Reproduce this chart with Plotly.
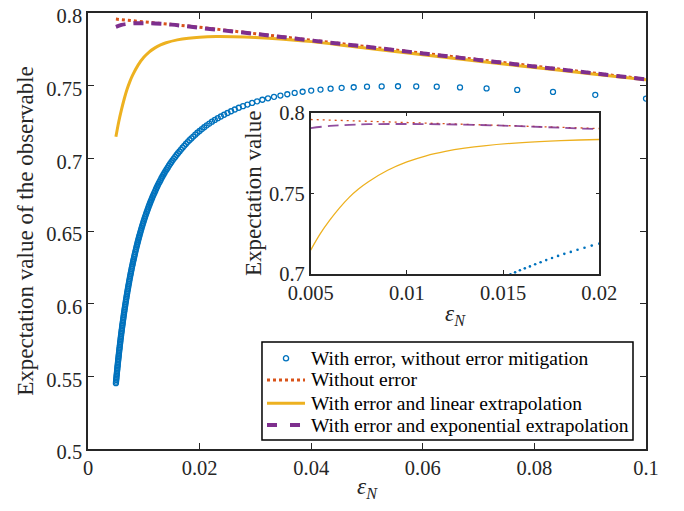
import plotly.graph_objects as go

# ---------------- data ----------------
# "With error, without error mitigation": sampled at eps_N = 1/N, N = 10..200
N_samples = list(range(10, 201))
blue_y = [
    0.7411, 0.7437, 0.7457, 0.7471, 0.7481, 0.7488, 0.7493, 0.7495, 0.7496, 0.7495,
    0.7493, 0.7489, 0.7485, 0.7479, 0.7473, 0.7466, 0.7458, 0.7450, 0.7441, 0.7432,
    0.7423, 0.7413, 0.7403, 0.7392, 0.7381, 0.7370, 0.7359, 0.7348, 0.7336, 0.7324,
    0.7312, 0.7300, 0.7288, 0.7276, 0.7264, 0.7252, 0.7239, 0.7227, 0.7214, 0.7201,
    0.7188, 0.7176, 0.7163, 0.7150, 0.7137, 0.7125, 0.7112, 0.7099, 0.7086, 0.7073,
    0.7060, 0.7047, 0.7035, 0.7023, 0.7010, 0.6998, 0.6986, 0.6973, 0.6961, 0.6949,
    0.6936, 0.6924, 0.6912, 0.6899, 0.6887, 0.6875, 0.6863, 0.6850, 0.6838, 0.6826,
    0.6813, 0.6801, 0.6789, 0.6776, 0.6764, 0.6752, 0.6740, 0.6727, 0.6715, 0.6703,
    0.6691, 0.6679, 0.6667, 0.6654, 0.6642, 0.6630, 0.6618, 0.6606, 0.6594, 0.6582,
    0.6570, 0.6558, 0.6546, 0.6534, 0.6522, 0.6510, 0.6498, 0.6486, 0.6474, 0.6462,
    0.6450, 0.6438, 0.6426, 0.6414, 0.6402, 0.6391, 0.6379, 0.6367, 0.6355, 0.6343,
    0.6332, 0.6320, 0.6308, 0.6297, 0.6285, 0.6273, 0.6262, 0.6250, 0.6239, 0.6227,
    0.6215, 0.6204, 0.6192, 0.6181, 0.6169, 0.6158, 0.6146, 0.6135, 0.6124, 0.6112,
    0.6101, 0.6090, 0.6078, 0.6067, 0.6056, 0.6044, 0.6033, 0.6022, 0.6011, 0.5999,
    0.5988, 0.5977, 0.5966, 0.5955, 0.5944, 0.5933, 0.5922, 0.5910, 0.5899, 0.5888,
    0.5877, 0.5866, 0.5855, 0.5845, 0.5834, 0.5823, 0.5812, 0.5801, 0.5790, 0.5779,
    0.5769, 0.5758, 0.5747, 0.5736, 0.5726, 0.5715, 0.5704, 0.5693, 0.5683, 0.5672,
    0.5662, 0.5651, 0.5640, 0.5630, 0.5619, 0.5609, 0.5598, 0.5588, 0.5577, 0.5567,
    0.5556, 0.5546, 0.5536, 0.5525, 0.5515, 0.5505, 0.5494, 0.5484, 0.5474, 0.5463,
    0.5453,
]
blue_x = [1.0 / n for n in N_samples]

# "Without error"
red_x = [0.005, 0.01, 0.015, 0.02, 0.03, 0.04, 0.05, 0.06, 0.07, 0.08, 0.09, 0.1]
red_y = [0.7958, 0.7939, 0.7921, 0.7902, 0.7858, 0.7813, 0.7769, 0.7724, 0.7679, 0.7634, 0.7590, 0.7545]

# "With error and linear extrapolation"
yel_x = [0.005, 0.0055, 0.006, 0.0065, 0.007, 0.0075, 0.008, 0.009, 0.010, 0.011, 0.012, 0.013,
         0.014, 0.016, 0.018, 0.020, 0.023, 0.026, 0.030, 0.035, 0.040, 0.050, 0.060, 0.070,
         0.080, 0.090, 0.100]
yel_y = [0.7148, 0.7250, 0.7335, 0.7410, 0.7475, 0.7528, 0.7572, 0.7643, 0.7695, 0.7733, 0.7760, 0.7780,
         0.7795, 0.7815, 0.7827, 0.7834, 0.7838, 0.7837, 0.7832, 0.7820, 0.7803, 0.7757, 0.7712, 0.7668,
         0.7625, 0.7582, 0.7540]

# "With error and exponential extrapolation"
pur_x = [0.005, 0.006, 0.007, 0.008, 0.010, 0.012, 0.015, 0.020, 0.030, 0.040, 0.050, 0.060,
         0.070, 0.080, 0.090, 0.100]
pur_y = [0.7905, 0.7918, 0.7925, 0.7929, 0.7930, 0.7928, 0.7920, 0.7898, 0.7856, 0.7811, 0.7767, 0.7722,
         0.7677, 0.7632, 0.7588, 0.7543]

names = ["With error, without error mitigation", "Without error",
         "With error and linear extrapolation", "With error and exponential extrapolation"]

main_xticks = [0, 0.02, 0.04, 0.06, 0.08, 0.1]
main_yticks = [0.5, 0.55, 0.6, 0.65, 0.7, 0.75, 0.8]
inset_xticks = [0.005, 0.01, 0.015, 0.02]
inset_yticks = [0.7, 0.75, 0.8]

# ---------------- styles ----------------
BLUE = "#0072BD"
RED = "#D95319"
YEL = "#EDB120"
PUR = "#7E2F8E"
AX = "#262626"
FONT = "Times New Roman, Liberation Serif, DejaVu Serif, serif"

fig = go.Figure()

# main axes traces
fig.add_trace(go.Scatter(x=blue_x, y=blue_y, mode="markers", name=names[0], showlegend=False,
                         marker=dict(symbol="circle-open", size=5, color=BLUE, line=dict(width=1.3, color=BLUE)),
                         xaxis="x", yaxis="y"))
fig.add_trace(go.Scatter(x=red_x, y=red_y, mode="lines", name=names[1], showlegend=False,
                         line=dict(color=RED, width=3, dash="dot"), xaxis="x", yaxis="y"))
fig.add_trace(go.Scatter(x=yel_x, y=yel_y, mode="lines", name=names[2], line_shape="spline", showlegend=False,
                         line=dict(color=YEL, width=3), xaxis="x", yaxis="y"))
fig.add_trace(go.Scatter(x=pur_x, y=pur_y, mode="lines", name=names[3], line_shape="spline", showlegend=False,
                         line=dict(color=PUR, width=4, dash="10px,8px"), xaxis="x", yaxis="y"))

# inset traces
fig.add_trace(go.Scatter(x=blue_x, y=blue_y, mode="markers", showlegend=False,
                         marker=dict(symbol="circle", size=2.6, color=BLUE), xaxis="x2", yaxis="y2"))
fig.add_trace(go.Scatter(x=red_x, y=red_y, mode="lines", showlegend=False,
                         line=dict(color=RED, width=1.3, dash="2px,4px"), xaxis="x2", yaxis="y2"))
fig.add_trace(go.Scatter(x=yel_x, y=yel_y, mode="lines", showlegend=False, line_shape="spline",
                         line=dict(color=YEL, width=1.3), xaxis="x2", yaxis="y2"))
fig.add_trace(go.Scatter(x=pur_x, y=pur_y, mode="lines", showlegend=False, line_shape="spline",
                         line=dict(color=PUR, width=1.8, dash="11px,6px"), xaxis="x2", yaxis="y2", opacity=0.85))

axis_common = dict(showline=True, linewidth=1.5, linecolor=AX, mirror="ticks", ticks="inside",
                   tickcolor=AX, tickwidth=1.3, showgrid=False, zeroline=False, automargin=False,
                   ticklabeloverflow="allow",
                   tickfont=dict(family=FONT, size=20.5, color=AX))

# ---------------- legend (drawn as a boxed key in paper coordinates) ----------------
LEG_X0, LEG_X1, LEG_Y0, LEG_Y1 = 0.3118, 0.9767, 0.0206, 0.2454
ROW_Y = [0.2080, 0.1583, 0.1048, 0.0550]
SAMPLE_X0, SAMPLE_X1, TEXT_X = 0.3208, 0.3889, 0.3961

shapes = [dict(type="rect", xref="paper", yref="paper", x0=LEG_X0, x1=LEG_X1, y0=LEG_Y0, y1=LEG_Y1,
               line=dict(color="black", width=1.5), fillcolor="white", layer="above")]
cx = (SAMPLE_X0 + SAMPLE_X1) / 2
rx, ry = 2.6 / 558, 2.6 / 436
shapes.append(dict(type="circle", xref="paper", yref="paper", x0=cx - rx, x1=cx + rx,
                   y0=ROW_Y[0] - ry, y1=ROW_Y[0] + ry, line=dict(color=BLUE, width=1.3), layer="above"))
sample_styles = [dict(color=RED, width=3, dash="dot"), dict(color=YEL, width=3),
                 dict(color=PUR, width=4, dash="10px,13px")]
for ry_, st in zip(ROW_Y[1:], sample_styles):
    shapes.append(dict(type="line", xref="paper", yref="paper", x0=SAMPLE_X0, x1=SAMPLE_X1,
                       y0=ry_, y1=ry_, line=st, layer="above"))

annotations = [dict(text=nm, xref="paper", yref="paper", x=TEXT_X, y=ry_, xanchor="left", yanchor="middle",
                    showarrow=False, font=dict(family=FONT, size=19.5, color="black"))
               for nm, ry_ in zip(names, ROW_Y)]

# the page places the figure 8 px in from the window's top-left corner
fig.update_layout(
    width=676, height=503,
    margin=dict(l=80, r=38, t=5, b=62),
    paper_bgcolor="white", plot_bgcolor="white",
    font=dict(family=FONT, color=AX),
    showlegend=False,
    shapes=shapes, annotations=annotations,
    xaxis=dict(domain=[0, 1], range=[0, 0.1], tickvals=main_xticks, ticklen=6, anchor="y",
               title=dict(text="<i>ε</i><sub><i>N</i></sub>", font=dict(family=FONT, size=23, color=AX), standoff=0),
               **axis_common),
    yaxis=dict(domain=[0, 1], range=[0.5, 0.8], tickvals=main_yticks, ticklen=6, anchor="x",
               ticklabelshift=3,
               title=dict(text="Expectation value of the observable", font=dict(family=FONT, size=23, color=AX), standoff=6),
               **axis_common),
    xaxis2=dict(domain=[0.3991, 0.9163], range=[0.005, 0.02], tickvals=inset_xticks, ticklen=4, anchor="y2",
                title=dict(text="<i>ε</i><sub><i>N</i></sub>", font=dict(family=FONT, size=23, color=AX), standoff=2),
                **axis_common),
    yaxis2=dict(domain=[0.4014, 0.7713], range=[0.7, 0.8], tickvals=inset_yticks, ticklen=4, anchor="x2",
                title=dict(text="Expectation value", font=dict(family=FONT, size=23, color=AX), standoff=1),
                **axis_common),
)

fig.write_html("out.html")
